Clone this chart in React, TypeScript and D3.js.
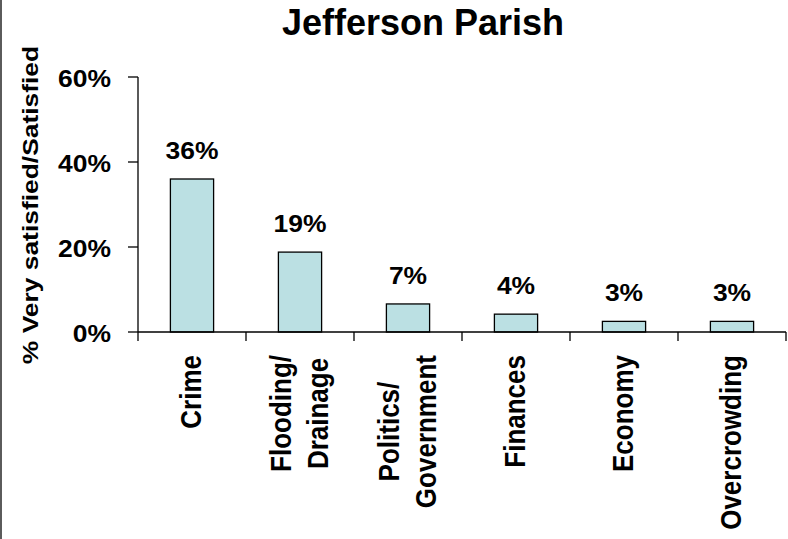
import React, { useEffect, useRef } from "react";
import * as d3 from "d3";

const title = "Jefferson Parish";
const yAxisTitle = "% Very satisfied/Satisfied";
const categories = ["Crime", "Flooding/\nDrainage", "Politics/\nGovernment", "Finances", "Economy", "Overcrowding"];
const values = [0.36, 0.188, 0.066, 0.042, 0.025, 0.025];
const valueLabels = ["36%", "19%", "7%", "4%", "3%", "3%"];
const yTicks = [0, 0.2, 0.4, 0.6];

const W = 788;
const H = 539;
const FONT = "'Liberation Sans', Arial, Helvetica, sans-serif";

export default function App() {
  const ref = useRef<SVGSVGElement | null>(null);

  useEffect(() => {
    const svg = d3.select(ref.current);
    svg.selectAll("*").remove();

    const x0 = 138, x1 = 786, yTop = 77, yBot = 332;
    const x = d3.scaleBand<string>().domain(categories).range([x0, x1]).paddingInner(0.6).paddingOuter(0.3);
    const y = d3.scaleLinear().domain([0, 0.6]).range([yBot, yTop]);
    const step = x.step();

    // left border
    svg.append("line").attr("x1", 1).attr("x2", 1).attr("y1", 0).attr("y2", H)
      .attr("stroke", "#333").attr("stroke-width", 1.6);

    // title
    svg.append("text").attr("x", 423).attr("y", 35).attr("text-anchor", "middle")
      .attr("font-family", FONT).attr("font-weight", "bold").attr("font-size", 36).attr("fill", "#000")
      .text(title);

    // y axis title
    svg.append("text")
      .attr("transform", `translate(38.3,205) scale(0.86,1) rotate(-90)`)
      .attr("text-anchor", "middle")
      .attr("font-family", FONT).attr("font-weight", "bold").attr("font-size", 26.4).attr("fill", "#000")
      .text(yAxisTitle);

    // bars
    svg.append("g").selectAll("rect").data(categories).join("rect")
      .attr("x", (d) => x(d)!)
      .attr("y", (d, i) => y(values[i]))
      .attr("width", x.bandwidth())
      .attr("height", (d, i) => yBot - y(values[i]))
      .attr("fill", "#BBE0E3")
      .attr("stroke", "#000")
      .attr("stroke-width", 1.3);

    // value labels
    svg.append("g").selectAll("text").data(categories).join("text")
      .attr("transform", (d, i) => `translate(${x(d)! + x.bandwidth() / 2},${y(values[i]) - 20}) scale(1.15,1)`)
      .attr("text-anchor", "middle")
      .attr("font-family", FONT).attr("font-weight", "bold").attr("font-size", 23).attr("fill", "#000")
      .text((d, i) => valueLabels[i]);

    // y axis
    const ya = svg.append("g");
    ya.append("line").attr("x1", x0).attr("x2", x0).attr("y1", yTop).attr("y2", yBot)
      .attr("stroke", "#000").attr("stroke-width", 1.3);
    ya.selectAll("line.tick").data(yTicks).join("line").attr("class", "tick")
      .attr("x1", x0 - 10).attr("x2", x0).attr("y1", (d) => y(d)).attr("y2", (d) => y(d))
      .attr("stroke", "#000").attr("stroke-width", 1.3);
    ya.selectAll("text").data(yTicks).join("text")
      .attr("transform", (d) => `translate(111,${y(d) + 9.5}) scale(1.15,1)`)
      .attr("text-anchor", "end")
      .attr("font-family", FONT).attr("font-weight", "bold").attr("font-size", 23).attr("fill", "#000")
      .text((d) => d3.format(".0%")(d));

    // x axis
    const xa = svg.append("g");
    xa.append("line").attr("x1", x0).attr("x2", x1).attr("y1", yBot).attr("y2", yBot)
      .attr("stroke", "#000").attr("stroke-width", 1.3);
    const bounds = d3.range(categories.length + 1).map((i) => x0 + i * step);
    xa.selectAll("line.tick").data(bounds).join("line").attr("class", "tick")
      .attr("x1", (d) => d).attr("x2", (d) => d).attr("y1", yBot).attr("y2", yBot + 9)
      .attr("stroke", "#000").attr("stroke-width", 1.3);

    // x labels (rotated, multi-line, centered among lines, top aligned)
    const topY = 355;
    const lineGap = 37;
    const fs = 26;
    categories.forEach((c) => {
      const lines = c.split("\n");
      const cx = x(c)! + x.bandwidth() / 2;
      const g = xa.append("g");
      const texts = lines.map((ln, i) => {
        const bx = cx + 9 + (i - (lines.length - 1) / 2) * lineGap;
        return g.append("text")
          .attr("text-anchor", "middle")
          .attr("font-family", FONT).attr("font-weight", "bold").attr("font-size", fs).attr("fill", "#000")
          .attr("data-bx", bx)
          .text(ln);
      });
      const maxLen = d3.max(texts, (t) => (t.node() as SVGTextElement).getComputedTextLength()) || 0;
      texts.forEach((t) => {
        const bx = +t.attr("data-bx");
        t.attr("transform", `translate(${bx},${topY + maxLen / 2}) scale(1.1,1) rotate(-90)`);
      });
    });
  }, []);

  return (
    <svg ref={ref} width={W} height={H} style={{ position: "absolute", left: 0, top: 0, background: "#fff" }} />
  );
}
